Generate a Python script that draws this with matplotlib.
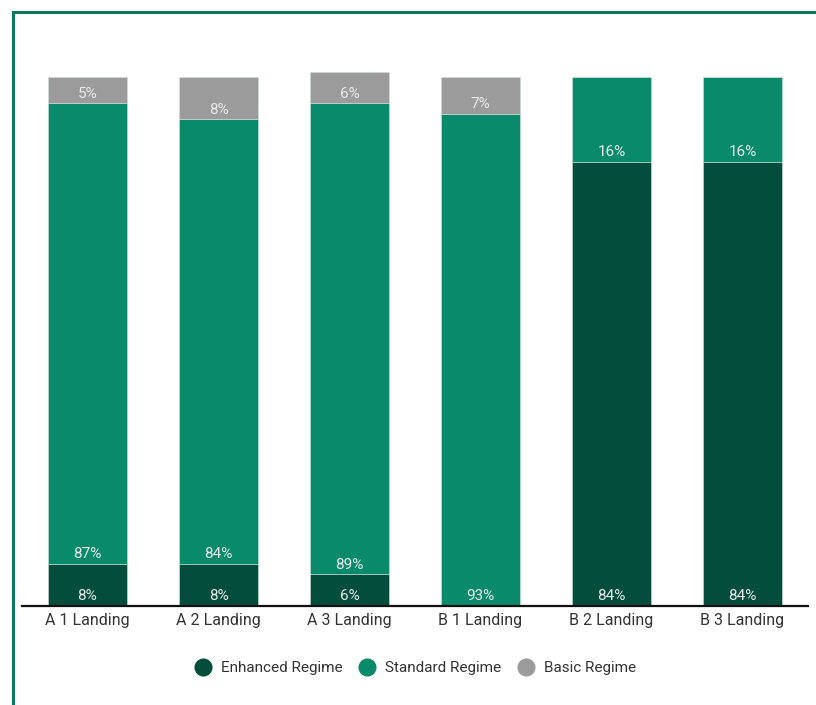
import matplotlib

matplotlib.use("Agg")
import matplotlib.pyplot as plt
from matplotlib.lines import Line2D
from matplotlib.patches import Rectangle
import numpy as np

plt.rcParams["font.family"] = ["Roboto", "DejaVu Sans"]

categories = ["A 1 Landing", "A 2 Landing", "A 3 Landing", "B 1 Landing", "B 2 Landing", "B 3 Landing"]
enhanced = [8, 8, 6, 0, 84, 84]
standard = [87, 84, 89, 93, 16, 16]
basic = [5, 8, 6, 7, 0, 0]

series = [
    ("Enhanced Regime", enhanced, "#024d3b"),
    ("Standard Regime", standard, "#098a6a"),
    ("Basic Regime", basic, "#9b9b9b"),
]

fig = plt.figure(figsize=(8.16, 7.05), dpi=100)
ax = fig.add_axes([22 / 816, 99 / 705, 786 / 816, 0.788])

x = np.arange(len(categories))
bottom = np.zeros(len(categories))
handles = []
for name, values, color in series:
    values = np.array(values, dtype=float)
    ax.bar(x, values, width=0.61, bottom=bottom, color=color, edgecolor="#cfe0d8", linewidth=0.4, zorder=2)
    for xi, b, v in zip(x, bottom, values):
        if v > 0:
            ax.annotate(f"{int(v)}%", xy=(xi, b), xytext=(0, 7), textcoords="offset points",
                        ha="center", va="center", fontsize=11, color="#eaeaea", zorder=3)
    bottom += values
    handles.append(Line2D([], [], marker="o", linestyle="none", markersize=12,
                          markerfacecolor=color, markeredgecolor=color, label=name))

ax.set_xlim(-0.5, len(categories) - 0.5)
ax.set_ylim(0, 105)
ax.set_xticks(x)
ax.set_xticklabels(categories, fontsize=11.5, color="#333333")
ax.tick_params(axis="x", length=0, pad=5)
ax.set_yticks([])
for side in ["top", "right", "left"]:
    ax.spines[side].set_visible(False)
ax.spines["bottom"].set_color("#111111")
ax.spines["bottom"].set_linewidth(1.6)
ax.spines["bottom"].set_zorder(4)

fig.legend(handles=handles, loc="center", bbox_to_anchor=(412 / 816, 1 - 668 / 705), ncol=3,
           frameon=False, fontsize=11, handletextpad=0.2, columnspacing=0.6,
           labelcolor="#333333")

# frame running off the right and bottom edges
fig.patches.append(Rectangle((12.5 / 816, -0.1), 1.0, 1.1 - 12 / 705, transform=fig.transFigure,
                             fill=False, edgecolor="#0b7a5c", linewidth=2.2))

fig.savefig("out.png", dpi=100)
